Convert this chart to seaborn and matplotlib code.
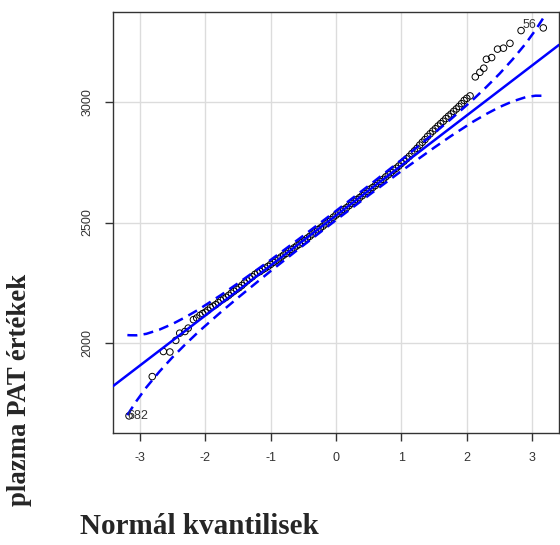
import numpy as np
import pandas as pd
import matplotlib
matplotlib.use('Agg')
import matplotlib.pyplot as plt
import seaborn as sns

# ─── Données (quantiles théoriques / valeurs PAT) ───────────────────────────
tail_low_z = [-3.165, -2.81, -2.64, -2.54, -2.45, -2.39, -2.31, -2.26, -2.18, -2.13]
tail_low_v = [1698, 1861, 1965, 1963, 2011, 2041, 2048, 2062, 2097, 2104]

core_z = [-2.08, -2.04, -2.00, -1.96, -1.92, -1.88, -1.84, -1.80, -1.76, -1.72,
          -1.68, -1.64, -1.60, -1.56, -1.52, -1.48, -1.44, -1.40, -1.36, -1.32,
          -1.28, -1.24, -1.20, -1.16, -1.12, -1.08, -1.04, -1.00, -0.96, -0.92,
          -0.88, -0.84, -0.80, -0.76, -0.72, -0.68, -0.64, -0.60, -0.56, -0.52,
          -0.48, -0.44, -0.40, -0.36, -0.32, -0.28, -0.24, -0.20, -0.16, -0.12,
          -0.08, -0.04, 0.00, 0.04, 0.08, 0.12, 0.16, 0.20, 0.24, 0.28,
          0.32, 0.36, 0.40, 0.44, 0.48, 0.52, 0.56, 0.60, 0.64, 0.68,
          0.72, 0.76, 0.80, 0.84, 0.88, 0.92, 0.96, 1.00, 1.04, 1.08,
          1.12, 1.16, 1.20, 1.24, 1.28, 1.32, 1.36, 1.40, 1.44, 1.48,
          1.52, 1.56, 1.60, 1.64, 1.68, 1.72, 1.76, 1.80, 1.84, 1.88,
          1.92, 1.96]
core_v = [2115, 2122, 2128, 2136, 2147, 2153, 2159, 2168, 2177, 2183,
          2190, 2198, 2207, 2215, 2223, 2230, 2239, 2249, 2258, 2267,
          2275, 2285, 2292, 2297, 2305, 2311, 2318, 2326, 2334, 2341,
          2349, 2357, 2365, 2372, 2381, 2388, 2395, 2403, 2410, 2418,
          2425, 2435, 2443, 2452, 2461, 2470, 2477, 2485, 2494, 2503,
          2512, 2522, 2531, 2539, 2547, 2554, 2561, 2570, 2579, 2588,
          2595, 2603, 2611, 2620, 2629, 2638, 2645, 2653, 2662, 2670,
          2679, 2689, 2698, 2707, 2717, 2725, 2734, 2745, 2754, 2764,
          2774, 2786, 2797, 2808, 2821, 2833, 2844, 2857, 2868, 2879,
          2889, 2900, 2910, 2920, 2931, 2941, 2950, 2961, 2971, 2981,
          2993, 3006]

tail_high_z = [2.00, 2.05, 2.13, 2.20, 2.26, 2.30, 2.38, 2.47, 2.56, 2.66, 2.83, 3.17]
tail_high_v = [3015, 3025, 3104, 3123, 3140, 3177, 3184, 3219, 3223, 3243, 3296, 3307]

# droite de référence (quartiles) et demi-largeur de l'enveloppe 95 %
line_intercept = 2529
line_slope = 207.5
env_z = [-3.19, -3.15, -3.05, -2.9, -2.7, -2.5, -2.3, -2.1, -1.75, -1.5, -1.0, -0.5, 0.0,
         0.5, 1.0, 1.5, 1.75, 2.1, 2.3, 2.5, 2.7, 2.9, 3.05, 3.15, 3.19]
env_half = [166, 157, 136, 111, 87, 69, 56, 46, 35, 30, 23, 20, 19,
            20, 23, 30, 35, 46, 56, 69, 87, 111, 136, 157, 166]

labels = [("682", -3.165, 1698, 'left'), ("56", 3.17, 3307, 'right')]

xticks = [-3, -2, -1, 0, 1, 2, 3]
yticks = [2000, 2500, 3000]

# ─── Style ──────────────────────────────────────────────────────────────────
sns.set_style('white')
plt.rcParams['font.family'] = ['Liberation Sans', 'DejaVu Sans']

df = pd.DataFrame({
    'z': tail_low_z + core_z + tail_high_z,
    'v': tail_low_v + core_v + tail_high_v,
})
env = pd.DataFrame({'z': env_z, 'half': env_half})
env['line'] = line_intercept + line_slope * env['z']
env['lower'] = env['line'] - env['half']
env['upper'] = env['line'] + env['half']

fig = plt.figure(figsize=(5.6, 5.45), dpi=100)
ax = fig.add_axes([113/560, 1 - 433/545, 446/560, 421/545])

xlim = (-3.41, 3.41)
ylim = (1627, 3373)

for t in xticks:
    ax.axvline(t, color='#dcdcdc', lw=1, zorder=0)
for t in yticks:
    ax.axhline(t, color='#dcdcdc', lw=1, zorder=0)

sns.scatterplot(data=df, x='z', y='v', ax=ax, marker='o', s=22,
                facecolor='none', edgecolor='black', linewidth=0.7,
                zorder=2, legend=False)

# droite pleine
xs = np.array(xlim)
ax.plot(xs, line_intercept + line_slope * xs, color='#0000FF', lw=1.8, zorder=3)
# enveloppe
sns.lineplot(data=env, x='z', y='lower', ax=ax, color='#0000FF', lw=1.8,
             linestyle=(0, (4, 2.5)), zorder=3, sort=False)
sns.lineplot(data=env, x='z', y='upper', ax=ax, color='#0000FF', lw=1.8,
             linestyle=(0, (4, 2.5)), zorder=3, sort=False)

for txt, zx, vy, side in labels:
    if side == 'left':
        ax.text(zx - 0.02, vy, txt, ha='left', va='center', fontsize=9, color='#333333', zorder=4)
    else:
        ax.text(zx - 0.1, vy + 12, txt, ha='right', va='center', fontsize=9, color='#333333', zorder=4)

ax.set_xlim(*xlim)
ax.set_ylim(*ylim)
ax.set_xticks(xticks)
ax.set_xticklabels([str(t) for t in xticks])
ax.set_yticks(yticks)
ax.set_yticklabels([str(t) for t in yticks], rotation=90, va='center')
ax.tick_params(axis='both', direction='out', length=6, width=1, color='#333333',
               labelsize=9, labelcolor='#333333', left=True, bottom=True)
ax.tick_params(axis='x', pad=8)
ax.tick_params(axis='y', pad=8)
for sp in ax.spines.values():
    sp.set_color('#333333')
    sp.set_linewidth(1)
ax.set_xlabel('')
ax.set_ylabel('')

fig.text(20/560, 1 - 390/545, 'plazma PAT értékek', rotation=90, ha='center', va='center',
         fontsize=19.3, fontweight='bold', family='Liberation Serif')
fig.text(80/560, 1 - 527/545, 'Normál kvantilisek', ha='left', va='center',
         fontsize=21, fontweight='bold', family='Liberation Serif')

fig.savefig('out.png', dpi=100)
